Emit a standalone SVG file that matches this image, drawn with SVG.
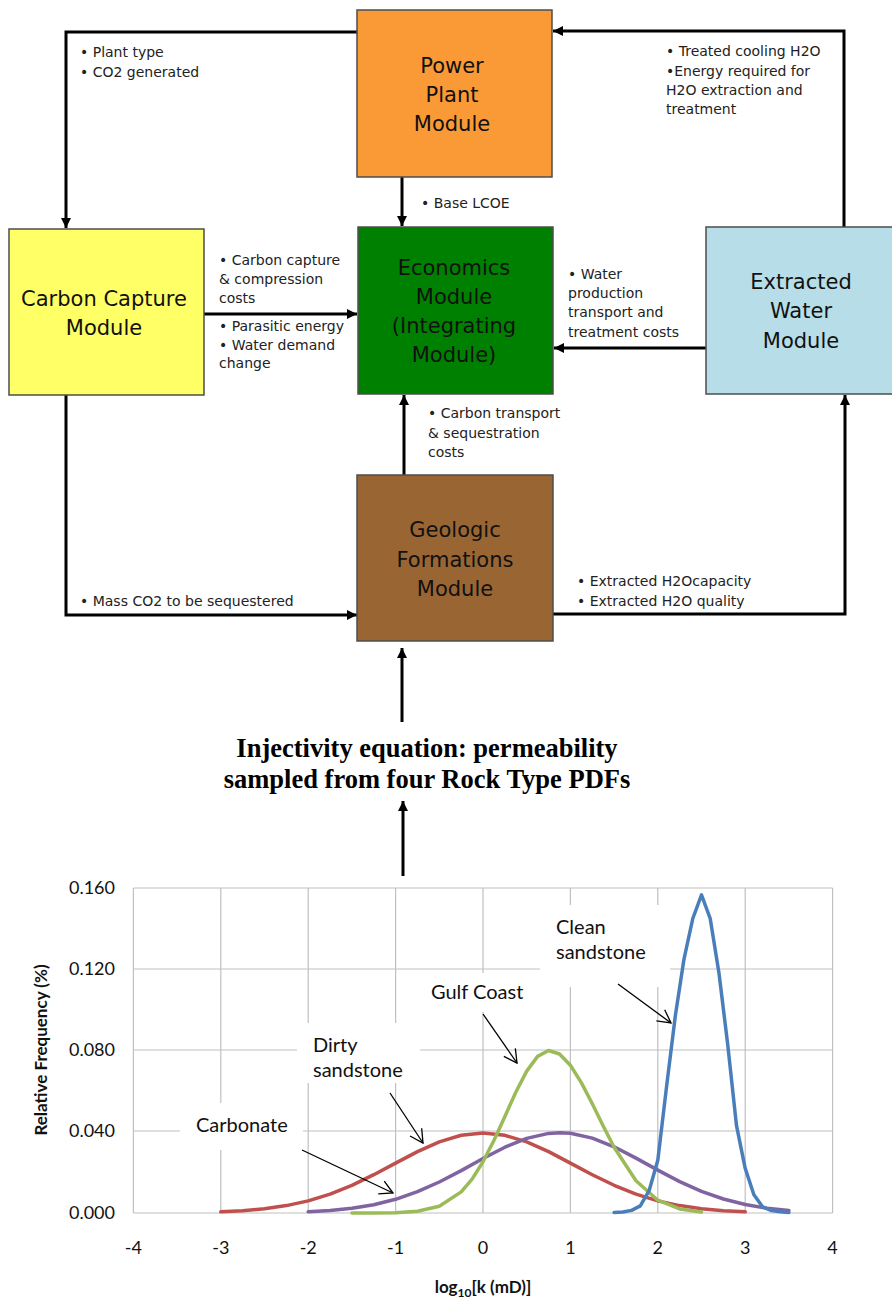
<svg xmlns="http://www.w3.org/2000/svg" width="892" height="1303" viewBox="0 0 892 1303">
<style>
.box{stroke:#4d4d4d;stroke-width:1.5}
.bl{font-family:"DejaVu Sans","Liberation Sans",sans-serif;font-size:21px;fill:#111;text-anchor:middle}
.sl{font-family:"DejaVu Sans","Liberation Sans",sans-serif;font-size:14px;fill:#222}
.con{fill:none;stroke:#000;stroke-width:3}
.title{font-family:"Liberation Serif","Times New Roman",serif;font-weight:bold;font-size:26.5px;fill:#000;text-anchor:middle}
.grid{stroke:#c0c0c0;stroke-width:1.2;fill:none}
.tick{font-family:Lato,"Open Sans",sans-serif;font-size:18px;fill:#111}
.ann{font-family:Lato,"Open Sans",sans-serif;font-size:20px;fill:#111}
.axt{font-family:Lato,"Open Sans",sans-serif;font-size:17px;font-weight:bold;fill:#111}
.curve{fill:none;stroke-width:3.5;stroke-linejoin:round;stroke-linecap:round}
.pa{fill:none;stroke:#000;stroke-width:1.3}
</style>
<defs>
<marker id="ah" markerUnits="userSpaceOnUse" markerWidth="10" markerHeight="10" viewBox="0 0 10 10" refX="10" refY="5" orient="auto">
<path d="M0,0 L10,5 L0,10 z" fill="#000"/>
</marker>
<marker id="va" markerUnits="userSpaceOnUse" markerWidth="15" markerHeight="16" viewBox="0 0 15 16" refX="14" refY="8" orient="auto">
<path d="M1,1 L14,8 L1,15" fill="none" stroke="#000" stroke-width="1.3"/>
</marker>
</defs>
<rect width="892" height="1303" fill="#fff"/>

<g id="connectors">
<path class="con" d="M357,32 H66 V228" marker-end="url(#ah)"/>
<path class="con" d="M402,177 V226" marker-end="url(#ah)"/>
<path class="con" d="M844,227 V31 H553" marker-end="url(#ah)"/>
<path class="con" d="M204,314 H357" marker-end="url(#ah)"/>
<path class="con" d="M706,348 H554" marker-end="url(#ah)"/>
<path class="con" d="M404,475 V395" marker-end="url(#ah)"/>
<path class="con" d="M66,395 V615 H357" marker-end="url(#ah)"/>
<path class="con" d="M553,614 H845 V395" marker-end="url(#ah)"/>
<path class="con" d="M402,722 V648" marker-end="url(#ah)"/>
<path class="con" d="M403,876 V801" marker-end="url(#ah)"/>
</g>

<g id="power-plant">
<rect class="box" x="357" y="10" width="195" height="167" fill="#fa9a37"/>
<text class="bl" x="452" y="73">Power</text>
<text class="bl" x="452" y="102">Plant</text>
<text class="bl" x="452" y="131">Module</text>
</g>
<g id="carbon-capture">
<rect class="box" x="9" y="229" width="195" height="166" fill="#ffff66"/>
<text class="bl" x="104" y="306">Carbon Capture</text>
<text class="bl" x="104" y="335">Module</text>
</g>
<g id="economics">
<rect class="box" x="358" y="227" width="195" height="167" fill="#008000"/>
<text class="bl" x="454" y="275">Economics</text>
<text class="bl" x="454" y="304">Module</text>
<text class="bl" x="454" y="333">(Integrating</text>
<text class="bl" x="454" y="362">Module)</text>
</g>
<g id="extracted-water">
<rect class="box" x="706" y="227" width="190" height="167" fill="#b7dee8"/>
<text class="bl" x="801" y="289">Extracted</text>
<text class="bl" x="801" y="318">Water</text>
<text class="bl" x="801" y="348">Module</text>
</g>
<g id="geologic">
<rect class="box" x="357" y="475" width="196" height="166" fill="#996633"/>
<text class="bl" x="455" y="537">Geologic</text>
<text class="bl" x="455" y="567">Formations</text>
<text class="bl" x="455" y="596">Module</text>
</g>

<g id="labels">
<text class="sl" x="80" y="57">• Plant type</text>
<text class="sl" x="80" y="77">• CO2 generated</text>
<text class="sl" x="666" y="56">• Treated cooling H2O</text>
<text class="sl" x="666" y="76">•Energy required for</text>
<text class="sl" x="666" y="95">H2O extraction and</text>
<text class="sl" x="666" y="114">treatment</text>
<text class="sl" x="421" y="208">• Base LCOE</text>
<text class="sl" x="219" y="265">• Carbon capture</text>
<text class="sl" x="219" y="284">&amp; compression</text>
<text class="sl" x="219" y="303">costs</text>
<text class="sl" x="219" y="331">• Parasitic energy</text>
<text class="sl" x="219" y="350">• Water demand</text>
<text class="sl" x="219" y="368">change</text>
<text class="sl" x="568" y="279">• Water</text>
<text class="sl" x="568" y="298">production</text>
<text class="sl" x="568" y="317">transport  and</text>
<text class="sl" x="568" y="337">treatment costs</text>
<text class="sl" x="428" y="418">• Carbon transport</text>
<text class="sl" x="428" y="438">&amp; sequestration</text>
<text class="sl" x="428" y="457">costs</text>
<text class="sl" x="80" y="606">• Mass CO2 to be sequestered</text>
<text class="sl" x="577" y="586">• Extracted H2Ocapacity</text>
<text class="sl" x="577" y="606">• Extracted H2O quality</text>
</g>

<g id="title">
<text class="title" x="427" y="757">Injectivity equation: permeability</text>
<text class="title" x="427" y="788">sampled from four Rock Type PDFs</text>
</g>

<g id="chart">
<path class="grid" d="M133.4,888 V1213 M220.8,888 V1213 M308.2,888 V1213 M395.6,888 V1213 M483,888 V1213 M570.4,888 V1213 M657.8,888 V1213 M745.2,888 V1213 M832.6,888 V1213 M133.4,888 H832.6 M133.4,969 H832.6 M133.4,1050 H832.6 M133.4,1131 H832.6 M133.4,1213 H832.6"/>
<rect x="540" y="905" width="130" height="82" fill="#fff"/>
<rect x="425" y="973" width="100" height="39" fill="#fff"/>
<rect x="297" y="1023" width="123" height="60" fill="#fff"/>
<rect x="180" y="1103" width="123" height="47" fill="#fff"/>

<g class="tick" text-anchor="end">
<text x="115" y="894">0.160</text>
<text x="115" y="975">0.120</text>
<text x="115" y="1056">0.080</text>
<text x="115" y="1137">0.040</text>
<text x="115" y="1219">0.000</text>
</g>
<g class="tick" text-anchor="middle">
<text x="133.4" y="1254">-4</text>
<text x="220.8" y="1254">-3</text>
<text x="308.2" y="1254">-2</text>
<text x="395.6" y="1254">-1</text>
<text x="483" y="1254">0</text>
<text x="570.4" y="1254">1</text>
<text x="657.8" y="1254">2</text>
<text x="745.2" y="1254">3</text>
<text x="832.6" y="1254">4</text>
</g>
<text class="axt" x="483" y="1293" text-anchor="middle">log<tspan font-size="12" dy="4">10</tspan><tspan dy="-4">[k (mD)]</tspan></text>
<text class="axt" transform="translate(47,1050) rotate(-90)" text-anchor="middle">Relative Frequency (%)</text>

<polyline class="curve" stroke="#c0504d" points="220.8,1211.8 242.7,1210.7 264.5,1208.8 286.4,1205.6 308.2,1200.9 330.1,1194.1 351.9,1185.3 373.8,1174.7 395.6,1163.1 417.5,1151.6 439.3,1141.9 461.2,1135.3 483,1133 504.9,1135.3 526.7,1141.9 548.6,1151.6 570.4,1163.1 592.3,1174.7 614.1,1185.3 636,1194.1 657.8,1200.9 679.7,1205.6 701.5,1208.8 723.4,1210.7 745.2,1211.8"/>
<polyline class="curve" stroke="#8064a2" points="308.2,1211.7 330.1,1210.5 351.9,1208.3 373.8,1204.7 395.6,1199.3 417.5,1191.7 439.3,1182 461.2,1170.6 483,1158.5 504.9,1147.2 526.7,1138.4 548.6,1133.4 559.9,1132.8 570.4,1133.3 592.3,1138.1 614.1,1146.8 636,1158.1 657.8,1170.1 679.7,1181.6 701.5,1191.4 723.4,1199 745.2,1204.5 767.1,1208.2 788.9,1210.4"/>
<polyline class="curve" stroke="#9bbb59" points="351.9,1212.9 373.8,1212.9 395.6,1212.7 417.5,1211.3 439.3,1206.2 461.2,1191.9 472.1,1179.1 483,1161.8 493.9,1140.5 504.9,1116.4 515.8,1092.2 526.7,1071.1 537.6,1056.4 548.6,1050.5 559.5,1054 570.4,1065.3 581.3,1082.6 592.3,1103.8 603.2,1126 614.1,1147.3 636,1180.8 657.8,1200.2 679.7,1208.9 701.5,1211.9"/>
<polyline class="curve" stroke="#4a7ebb" points="614.1,1212.4 622.8,1212 631.6,1210.4 640.3,1205.9 649.1,1190.7 657.8,1160.2 666.5,1087.1 675.3,1016 684,959.1 692.8,918.5 701.5,894.9 710.2,918.5 719,973.3 727.7,1044.4 736.5,1125.7 745.2,1168.3 753.9,1194.7 762.7,1206.9 771.4,1210.6 780.2,1211.8 788.9,1212.4"/>

<text class="ann" x="556" y="934">Clean</text>
<text class="ann" x="556" y="959">sandstone</text>
<text class="ann" x="431" y="999">Gulf Coast</text>
<text class="ann" x="313" y="1052">Dirty</text>
<text class="ann" x="313" y="1077">sandstone</text>
<text class="ann" x="196" y="1132">Carbonate</text>

<line class="pa" x1="618" y1="984" x2="671" y2="1023" marker-end="url(#va)"/>
<line class="pa" x1="483" y1="1014" x2="517" y2="1063" marker-end="url(#va)"/>
<line class="pa" x1="390" y1="1093" x2="423" y2="1143" marker-end="url(#va)"/>
<line class="pa" x1="302" y1="1150" x2="393" y2="1193" marker-end="url(#va)"/>
</g>
</svg>
